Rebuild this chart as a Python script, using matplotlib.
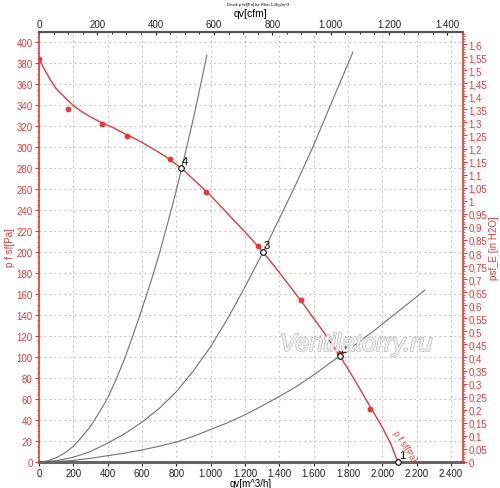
import matplotlib
matplotlib.use('Agg')
import matplotlib.pyplot as plt
import matplotlib.patheffects as pe
from matplotlib.ticker import MultipleLocator, FixedLocator, FuncFormatter

plt.rcParams['font.family'] = ['Liberation Sans', 'DejaVu Sans']

# fan curve p_fsf [Pa] vs qv [m^3/h]
fan_q = [0, 20, 40, 60, 80, 100, 130, 160, 200, 250, 300, 360, 430, 500, 575,
         650, 740, 830, 910, 1000, 1075, 1150, 1225, 1300, 1375, 1450, 1525,
         1600, 1675, 1750, 1825, 1900, 1950, 2000, 2050, 2090]
fan_p = [384, 378, 372, 366, 361, 356, 351, 346, 340, 334, 329, 324, 319, 313, 307,
         300, 291, 280, 268, 254, 241, 228, 215, 201, 186, 170, 154,
         137, 120, 102, 82, 61, 47, 33, 17, 0]

# measured points
meas_q = [0, 169, 367, 512, 763, 973, 1276, 1526, 1749, 1928]
meas_p = [384, 337, 322, 311, 289, 257, 206, 154, 104, 51]

# system curves
sys4_q = [0, 50, 100, 150, 200, 250, 300, 350, 400, 450, 500, 550, 600, 650,
          700, 750, 800, 850, 900, 950, 978]
sys4_p = [0, 1, 4, 8.5, 15, 24, 34, 47, 61, 79, 99, 122, 146, 171,
          198, 228, 259, 293, 328, 366, 388]
sys3_q = [0, 100, 200, 300, 400, 500, 600, 700, 800, 900, 1000, 1100, 1200,
          1305, 1400, 1500, 1600, 1700, 1829]
sys3_p = [0, 1.2, 4.5, 10, 18, 27, 38, 51, 67, 87, 110, 137, 167,
          200, 232, 266, 302, 341, 391]
sys2_q = [0, 100, 200, 300, 400, 500, 600, 700, 800, 900, 1000, 1100, 1200,
          1300, 1400, 1500, 1600, 1700, 1753, 1850, 1950, 2050, 2150, 2248]
sys2_p = [0, 0.4, 1.5, 3.5, 6, 8.5, 11.5, 15, 19, 24.5, 31, 37.5, 45,
          53.5, 62.5, 72, 83, 95, 101, 113, 125, 138, 151, 164]

# operating points
op_q = [2091, 1753, 1305, 827]
op_p = [0, 101, 200, 280]
op_labels = ['1', '2', '3', '4']

# top axis ticks [cfm]
cfm_ticks = [0, 200, 400, 600, 800, 1000, 1200, 1400]

RED = '#e23a3a'
GRAY = '#707070'
M3H_PER_CFM = 1.699
PA_PER_INH2O = 249.09

fig = plt.figure(figsize=(5, 4.89), dpi=100)
ax = fig.add_axes([0.078, 0.0532, 0.848, 0.8793])
ax.set_xlim(0, 2470)
ax.set_ylim(0, 410)

ax.xaxis.set_major_locator(MultipleLocator(200))
ax.yaxis.set_major_locator(MultipleLocator(20))
ax.yaxis.set_minor_locator(MultipleLocator(5))
ax.grid(True, which='major', color='#bdbdbd', linestyle=(0, (1.5, 3)), linewidth=0.8)

thou = FuncFormatter(lambda v, p: f"{int(round(v)):,}".replace(",", "."))
ax.xaxis.set_major_formatter(thou)

ax.tick_params(axis='x', labelsize=7, length=3, pad=1, colors='#222222')
ax.tick_params(axis='y', which='major', labelsize=7, length=3, pad=1.5,
               colors=RED, labelcolor=RED)
ax.tick_params(axis='y', which='minor', length=1.5, colors=RED)

ax.spines['left'].set_color(RED)
ax.spines['left'].set_linewidth(1.2)
ax.spines['right'].set_visible(False)
ax.spines['top'].set_color('#555555')
ax.spines['top'].set_linewidth(1.5)
ax.spines['bottom'].set_color('#666666')
ax.spines['bottom'].set_linewidth(2.2)

ax.set_xlabel("qv[m^3/h]", fontsize=7, labelpad=0)
ax.set_ylabel("p f sf[Pa]", fontsize=7, color=RED, labelpad=1)

# system curves
ax.plot(sys4_q, sys4_p, color=GRAY, lw=0.8)
ax.plot(sys3_q, sys3_p, color=GRAY, lw=0.8)
ax.plot(sys2_q, sys2_p, color=GRAY, lw=0.8)

# fan curve
ax.plot(fan_q, fan_p, color=RED, lw=1.0)
ax.plot(meas_q, meas_p, 'o', color=RED, ms=3.2)

# operating points
ax.plot(op_q, op_p, 'o', mfc='white', mec='black', ms=4, mew=0.8,
        clip_on=False, zorder=5)
for q, p, lab in zip(op_q, op_p, op_labels):
    ax.text(q + 5, p + 4, lab, fontsize=8, color='black', zorder=6)

ax.text(2128, 16, "p f sf[Pa]", fontsize=6.5, color=RED, rotation=-57,
        ha='center', va='center', zorder=7)

# top axis in cfm
top = ax.secondary_xaxis('top', functions=(lambda q: q / M3H_PER_CFM,
                                           lambda c: c * M3H_PER_CFM))
top.xaxis.set_major_locator(FixedLocator(cfm_ticks))
top.xaxis.set_minor_locator(MultipleLocator(50))
top.xaxis.set_major_formatter(thou)
top.tick_params(labelsize=7, length=2.5, pad=2, direction='in', colors='#222222')
top.tick_params(which='minor', length=1.5, direction='in')
top.set_xlabel("qv[cfm]", fontsize=7.5, labelpad=2)

# right axis in inH2O
ax2 = ax.twinx()
ax2.set_ylim(0, 410 / PA_PER_INH2O)
ax2.yaxis.set_major_locator(MultipleLocator(0.05))
ax2.yaxis.set_minor_locator(MultipleLocator(0.01))
ax2.yaxis.set_major_formatter(
    FuncFormatter(lambda v, p: f"{round(v, 2):g}".replace(".", ",")))
ax2.tick_params(axis='y', which='major', labelsize=7, length=3, pad=1,
                colors=RED, labelcolor=RED)
ax2.tick_params(axis='y', which='minor', length=1.5, colors=RED)
for s in ['left', 'top', 'bottom']:
    ax2.spines[s].set_visible(False)
ax2.spines['right'].set_color(RED)
ax2.spines['right'].set_linewidth(1.2)
ax2.set_ylabel("psf_E [in H2O]", fontsize=7, color=RED, labelpad=1)

fig.text(0.516, 0.989, "Druck p fsf[Pa] für Rho=1,2kg/m^3", fontsize=3,
         ha='center', va='center')

fig.text(0.712, 0.2945, "Ventilatorry.ru", fontsize=18, style='italic',
         color='#f2f2f2', ha='center', va='center',
         path_effects=[pe.withStroke(linewidth=1.2, foreground='#c4c4c4')])

fig.savefig("out.png", dpi=100)
